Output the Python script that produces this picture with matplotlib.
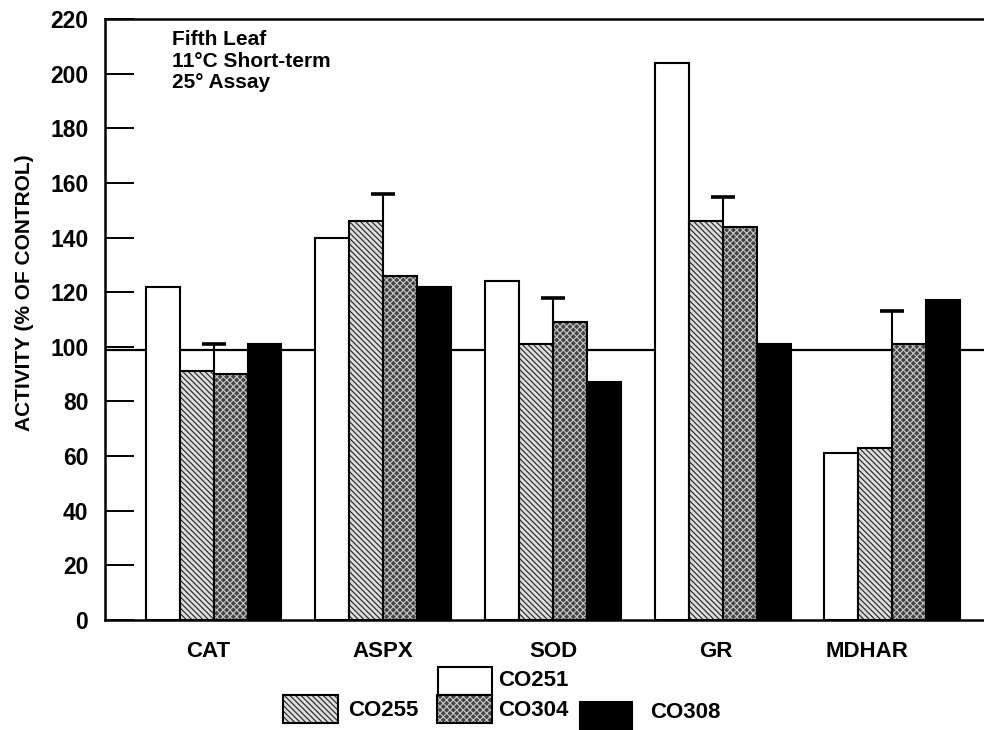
import matplotlib
matplotlib.use("Agg")
import matplotlib.pyplot as plt
from matplotlib.patches import Rectangle
import numpy as np

# ---------------- data ----------------
categories = ["CAT", "ASPX", "SOD", "GR", "MDHAR"]
series_names = ["CO251", "CO255", "CO304", "CO308"]
co251 = [122, 140, 124, 204, 61]
co255 = [91, 146, 101, 146, 63]
co304 = [90, 126, 109, 144, 101]
co308 = [101, 122, 87, 101, 117]
# one-sided error bars drawn at group centre, rising from the named series
err_on = ["CO255", "CO255", "CO304", "CO255", "CO304"]
err_up = [10, 10, 9, 9, 12]
control_level = 99
y_ticks = [0, 20, 40, 60, 80, 100, 120, 140, 160, 180, 200, 220]
annotation = ["Fifth Leaf", "11°C Short-term", "25° Assay"]

values = {"CO251": co251, "CO255": co255, "CO304": co304, "CO308": co308}

# ---------------- style ----------------
plt.rcParams["font.family"] = ["Liberation Sans", "DejaVu Sans"]
plt.rcParams["font.weight"] = "bold"
plt.rcParams["hatch.linewidth"] = 0.8

styles = {
    "CO251": dict(face="white", hatch=None, hcolor="white"),
    "CO255": dict(face="#dcdcdc", hatch="\\\\\\\\\\\\", hcolor="#222222"),
    "CO304": dict(face="#444444", hatch="xxxxx", hcolor="#c8c8c8"),
    "CO308": dict(face="black", hatch=None, hcolor="black"),
}

W, H = 984, 730
fig = plt.figure(figsize=(W / 100, H / 100), dpi=100)
ax = fig.add_axes([105 / W, 1 - 620 / H, 1 - 105 / W, (620 - 19) / H])

x = np.arange(len(categories))
width = 0.2

# control reference line (behind bars)
ax.axhline(control_level, color="black", lw=1.6, zorder=1)

for j, name in enumerate(series_names):
    st = styles[name]
    xs = x + (j - 1.5) * width
    ax.bar(xs, values[name], width, color=st["face"], edgecolor=st["hcolor"],
           hatch=st["hatch"], linewidth=0, zorder=2)
    ax.bar(xs, values[name], width, fill=False, edgecolor="black",
           linewidth=1.5, zorder=3)

err_base = [values[s][i] for i, s in enumerate(err_on)]
eb = ax.errorbar(x, err_base, yerr=[np.zeros(len(err_up)), err_up], fmt="none",
                 ecolor="black", elinewidth=1.5, capsize=8.5, capthick=2.6,
                 zorder=4)
# keep only the upper caps (one-sided error bars)
caplines = eb[1]
if len(caplines) == 2:
    caplines[0].set_visible(False)

ax.set_xlim(-0.64, 4.54)
ax.set_ylim(0, 220)
ax.set_yticks(y_ticks)
ax.set_yticklabels([str(t) for t in y_ticks], fontsize=16.5, fontweight="bold")
ax.tick_params(axis="y", direction="in", length=21, width=1.4, pad=12)
label_shift = [-0.03, 0.0, 0.0, -0.04, -0.15]
ax.set_xticks(x + np.array(label_shift))
ax.set_xticklabels(categories, fontsize=16, fontweight="bold")
ax.tick_params(axis="x", length=0, pad=15)

for s in ["left", "bottom", "top"]:
    ax.spines[s].set_linewidth(1.8)
ax.spines["right"].set_visible(False)

fig.text(25 / W, 1 - 293 / H, "ACTIVITY (% OF CONTROL)", rotation=90,
         ha="center", va="center", fontsize=15, fontweight="bold")

for txt, base in zip(annotation, [45, 67, 88]):
    fig.text(172 / W, 1 - base / H, txt, ha="left", va="baseline",
             fontsize=15, fontweight="bold")

# ---------------- legend (manual layout) ----------------
legend_layout = {
    "CO251": ((438, 667, 54, 28), 498, 681),
    "CO255": ((283, 695, 55, 28), 348, 710),
    "CO304": ((437, 695, 55, 28), 498, 710),
    "CO308": ((580, 702, 52, 28), 650, 713),
}
for name in series_names:
    (bx, by, bw, bh), tx, ty = legend_layout[name]
    st = styles[name]
    r = Rectangle((bx / W, 1 - (by + bh) / H), bw / W, bh / H,
                  transform=fig.transFigure, facecolor=st["face"],
                  edgecolor=st["hcolor"], hatch=st["hatch"], linewidth=0)
    fig.add_artist(r)
    r2 = Rectangle((bx / W, 1 - (by + bh) / H), bw / W, bh / H,
                   transform=fig.transFigure, fill=False, edgecolor="black",
                   linewidth=1.5)
    fig.add_artist(r2)
    fig.text(tx / W, 1 - ty / H, name, ha="left", va="center",
             fontsize=16, fontweight="bold")

fig.savefig("out.png", dpi=100)
